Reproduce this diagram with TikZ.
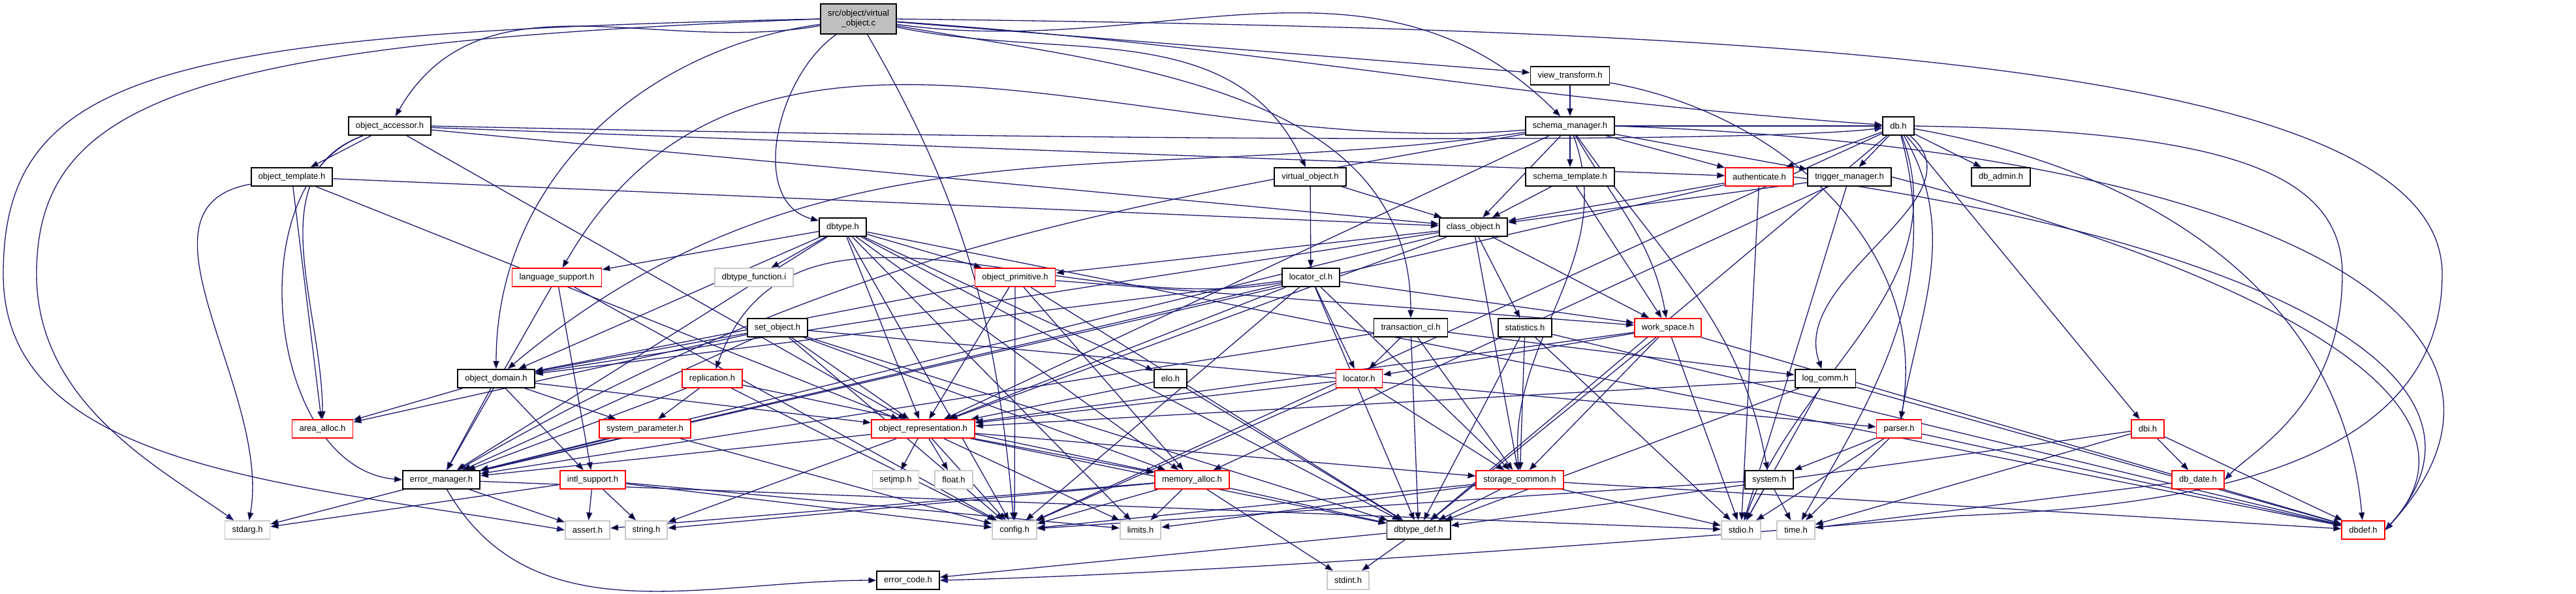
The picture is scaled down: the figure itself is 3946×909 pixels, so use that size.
\documentclass[tikz,border=0pt]{standalone}
\usepackage{fontspec}
\setmainfont{Liberation Sans}
\usetikzlibrary{arrows.meta,backgrounds}
\definecolor{edgeblue}{RGB}{25,25,112}
\definecolor{sysgray}{RGB}{200,200,200}
\definecolor{srcgray}{RGB}{191,191,191}
\tikzset{
  hbox/.style={draw=black, line width=0.18pt, fill=white, font=\fontsize{1.3}{1.5}\selectfont,
    inner xsep=1.1pt, inner ysep=0.2pt, minimum height=2.8pt},
  redbox/.style={hbox, draw=red},
  sysbox/.style={hbox, draw=sysgray},
  inc/.style={draw=edgeblue, line width=0.13pt, -{Triangle[length=1.2pt,width=0.9pt]}},
}

\begin{document}
\begin{tikzpicture}[x=0.1pt,y=-0.1pt]
	\useasboundingbox (0,0) rectangle (3946,909);
	% rows of the include graph
	\node[hbox, fill=srcgray, align=center, minimum height=4.6pt] (virtc) at (1315,29) {src/object/virtual\\\_object.c};
	\node[hbox] (viewtr) at (2405,116) {view\_transform.h};
	\node[hbox] (objacc) at (597,193) {object\_accessor.h};
	\node[hbox] (schmgr) at (2405,193) {schema\_manager.h};
	\node[hbox] (dbh) at (2908,193) {db.h};
	\node[hbox] (objtpl) at (447,271) {object\_template.h};
	\node[hbox] (virth) at (2007,271) {virtual\_object.h};
	\node[hbox] (schtpl) at (2405,271) {schema\_template.h};
	\node[redbox] (auth) at (2695,271) {authenticate.h};
	\node[hbox] (trigmgr) at (2833,271) {trigger\_manager.h};
	\node[hbox] (dbadmin) at (3065,271) {db\_admin.h};
	\node[hbox] (dbtype) at (1291,348) {dbtype.h};
	\node[hbox] (clsobj) at (2257,348) {class\_object.h};
	\node[redbox] (langsup) at (853,425) {language\_support.h};
	\node[sysbox] (dbtfunc) at (1155,425) {dbtype\_function.i};
	\node[redbox] (objprim) at (1555,425) {object\_primitive.h};
	\node[hbox] (loccl) at (2008,425) {locator\_cl.h};
	\node[hbox] (setobj) at (1191,502) {set\_object.h};
	\node[hbox] (trancl) at (2161,502) {transaction\_cl.h};
	\node[hbox] (stats) at (2336,502) {statistics.h};
	\node[redbox] (wspace) at (2555,502) {work\_space.h};
	\node[hbox] (objdom) at (760,580) {object\_domain.h};
	\node[redbox] (repl) at (1091,580) {replication.h};
	\node[hbox] (elo) at (1793,580) {elo.h};
	\node[redbox] (locator) at (2082,580) {locator.h};
	\node[hbox] (logcomm) at (2796,580) {log\_comm.h};
	\node[redbox] (areaal) at (494,657) {area\_alloc.h};
	\node[redbox] (syspar) at (988,657) {system\_parameter.h};
	\node[redbox] (objrep) at (1414,657) {object\_representation.h};
	\node[redbox] (parser) at (2909,657) {parser.h};
	\node[redbox] (dbi) at (3290,657) {dbi.h};
	\node[hbox] (errmgr) at (676,735) {error\_manager.h};
	\node[redbox] (intl) at (908,735) {intl\_support.h};
	\node[sysbox] (setjmp) at (1372,735) {setjmp.h};
	\node[sysbox] (float) at (1461,735) {float.h};
	\node[redbox] (memal) at (1826,735) {memory\_alloc.h};
	\node[redbox] (stcomm) at (2328,735) {storage\_common.h};
	\node[hbox] (system) at (2710,735) {system.h};
	\node[redbox] (dbdate) at (3367,735) {db\_date.h};
	\node[sysbox] (stdarg) at (379,812) {stdarg.h};
	\node[sysbox] (assert) at (900,812) {assert.h};
	\node[sysbox] (string) at (990,812) {string.h};
	\node[sysbox] (config) at (1554,812) {config.h};
	\node[sysbox] (limits) at (1747,812) {limits.h};
	\node[hbox] (dbtdef) at (2173,812) {dbtype\_def.h};
	\node[sysbox] (stdio) at (2667,812) {stdio.h};
	\node[sysbox] (time) at (2751,812) {time.h};
	\node[redbox] (dbdef) at (3620,812) {dbdef.h};
	\node[hbox] (errcode) at (1391,889) {error\_code.h};
	\node[sysbox] (stdint) at (2065,889) {stdint.h};
	% bend points of the long routes
	\coordinate (farA) at (5,420);
	\coordinate (farB) at (56,420);
	\coordinate (farR) at (3741,420);
	\coordinate (farRlow) at (3000,790);
	\coordinate (farD) at (3588,420);

	% includes, one \draw per file, kept under the boxes
	\begin{scope}[on background layer]
	\draw[inc] (virtc) edge[out=190,in=60] (objacc) edge (viewtr) edge[out=-8,in=135] (schmgr)
		edge[out=-4,in=176] (dbh) edge[out=215,in=165] (dbtype) edge[out=-12,in=115] (virth)
		edge[out=-10,in=90] (trancl) edge[out=188,in=90] (objdom) edge[out=-60,in=95] (config);
	\draw[inc] (virtc.west) .. controls (250,50) and (5,110) .. (farA) .. controls (5,720) and (450,740) .. (assert.west);
	\draw[inc] (virtc.west) .. controls (300,65) and (56,150) .. (farB) .. controls (56,620) and (250,720) .. (stdarg);
	\draw[inc] (virtc.east) .. controls (2700,45) and (3741,90) .. (farR) .. controls (3741,700) and (3400,775) .. (farRlow)
		.. controls (2400,840) and (1800,880) .. (errcode.east);
	\draw[inc] (objacc) edge (objtpl) edge (auth) edge (clsobj) edge[out=200,in=90] (areaal)
		edge[out=200,in=175] (errmgr.west) edge (objrep);
	\draw[inc] (objacc.east) .. controls (1800,218) and (2700,218) .. (dbh);
	\draw[inc] (objtpl) edge (clsobj) edge (areaal) edge[out=190,in=80] (stdarg) edge (objrep);
	\draw[inc] (viewtr) edge (schmgr) edge[out=-10,in=80] (parser);
	\draw[inc] (schmgr) edge (schtpl) edge (clsobj) edge (dbh) edge (auth) edge (trigmgr)
		edge[out=-60,in=100] (wspace) edge[out=185,in=60] (langsup) edge[out=188,in=40] (objdom)
		edge (objrep) edge[out=190,in=30] (errmgr) edge[out=-55,in=100] (system) edge[out=-70,in=95] (stcomm);
	\draw[inc] (schmgr.east) .. controls (3500,230) and (3940,500) .. (dbdef.east);
	\draw[inc] (schtpl) edge (clsobj) edge (wspace);
	\draw[inc] (auth) edge (clsobj) edge (errmgr) edge (stdio);
	\draw[inc] (auth.east) .. controls (3400,360) and (3880,560) .. (dbdef.east);
	\draw[inc] (trigmgr) edge (clsobj) edge (stdio) edge (memal);
	\draw[inc] (trigmgr.east) .. controls (3400,400) and (3850,600) .. (dbdef.east);
	\draw[inc] (dbh) edge (auth) edge (trigmgr) edge (dbadmin) edge (dbi) edge[out=-60,in=80] (parser)
		edge[out=-40,in=110] (logcomm) edge[out=-10,in=95] (dbdef) edge[out=-70,in=70] (stdio)
		edge[out=-75,in=60] (time) edge (dbtdef) edge (config);
	\draw[inc] (dbh.east) .. controls (3400,200) and (3588,260) .. (farD) .. controls (3588,620) and (3450,690) .. (dbdate.east);
	\draw[inc] (dbtype) edge (langsup) edge (dbtfunc) edge (objprim) edge (objdom) edge (errmgr)
		edge (elo) edge (objrep) edge (memal) edge (config) edge (dbtdef) edge (limits) edge (dbdef);
	\draw[inc] (virth) edge (clsobj) edge (loccl);
	\draw[inc] (clsobj) edge (objprim) edge (stats) edge (wspace) edge (stcomm) edge (objdom)
		edge (errmgr) edge (objrep);
	\draw[inc] (loccl) edge (locator) edge (objrep) edge (objdom) edge (errmgr) edge (stcomm)
		edge (dbtdef) edge (wspace) edge[out=190,in=70] (repl) edge (config);
	\draw[inc] (objprim) edge (objrep) edge (config) edge (dbtdef) edge (objdom) edge (wspace) edge (memal);
	\draw[inc] (setobj) edge (objrep) edge (objdom) edge (errmgr) edge (areaal) edge (parser)
		edge (memal) edge (config) edge (dbtdef);
	\draw[inc] (trancl) edge (locator) edge (logcomm) edge (stcomm) edge (errmgr) edge (dbtdef);
	\draw[inc] (stats) edge (stcomm) edge (dbtdef) edge (stdio) edge (dbdef);
	\draw[inc] (wspace) edge (locator) edge (stcomm) edge (dbtdef) edge (stdio) edge (dbdef) edge (objrep);
	\draw[inc] (objdom) edge (areaal) edge (syspar) edge (errmgr) edge (intl) edge (objrep);
	\draw[inc] (repl) edge (syspar) edge (errmgr) edge (config) edge (memal);
	\draw[inc] (elo) edge (objrep) edge (dbtdef);
	\draw[inc] (locator) edge (stcomm) edge (objrep) edge (config);
	\draw[inc] (logcomm) edge (objrep) edge (dbtdef) edge (stdio) edge (dbdef);
	\draw[inc] (langsup) edge (errmgr) edge (intl) edge (config);
	\draw[inc] (syspar) edge (errmgr) edge (config);
	\draw[inc] (objrep) edge (setjmp) edge (float) edge (errmgr) edge (memal) edge (config)
		edge (limits) edge (string) edge (stcomm) edge (dbtdef);
	\draw[inc] (parser) edge (system) edge (dbdef) edge (time) edge (stdio);
	\draw[inc] (dbi) edge (dbdate) edge (dbdef) edge (time) edge (dbtdef);
	\draw[inc] (errmgr) edge (stdarg) edge (assert) edge[out=-60,in=180] (errcode) edge (stdio);
	\draw[inc] (intl) edge (assert) edge (string) edge (config) edge (stdarg) edge (limits);
	\draw[inc] (memal) edge (config) edge (limits) edge (stdint) edge (string) edge (assert) edge (dbtdef);
	\draw[inc] (stcomm) edge (dbtdef) edge (stdio) edge (config) edge (limits) edge (dbdef);
	\draw[inc] (system) edge (stdio) edge (time) edge (config);
	\draw[inc] (dbdate) edge (time);
	\draw[inc] (dbtdef) edge (stdint) edge (errcode);
	\end{scope}
\end{tikzpicture}
\end{document}
